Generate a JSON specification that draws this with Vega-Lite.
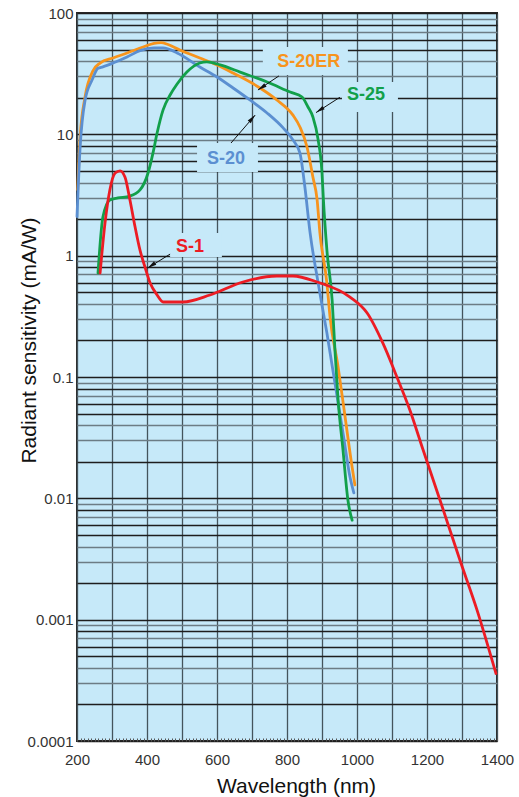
{
  "$schema": "https://vega.github.io/schema/vega-lite/v6.json",
  "width": 420,
  "height": 728,
  "autosize": "none",
  "padding": {"left": 77, "top": 13, "right": 22, "bottom": 56},
  "config": {
    "view": {"stroke": "#2a2a2a", "strokeWidth": 2, "fill": "#c6e9f9"},
    "font": "Liberation Sans"
  },
  "datasets": {
    "curves": [
      {"series": "S-20ER", "nm": 202, "v": 3.5},
      {"series": "S-20ER", "nm": 209, "v": 9.5},
      {"series": "S-20ER", "nm": 223, "v": 20.3},
      {"series": "S-20ER", "nm": 246, "v": 33.5},
      {"series": "S-20ER", "nm": 266, "v": 38.7},
      {"series": "S-20ER", "nm": 303, "v": 42.6},
      {"series": "S-20ER", "nm": 343, "v": 46.8},
      {"series": "S-20ER", "nm": 389, "v": 52.5},
      {"series": "S-20ER", "nm": 420, "v": 56.3},
      {"series": "S-20ER", "nm": 440, "v": 57},
      {"series": "S-20ER", "nm": 460, "v": 55},
      {"series": "S-20ER", "nm": 494, "v": 49.5},
      {"series": "S-20ER", "nm": 551, "v": 42.6},
      {"series": "S-20ER", "nm": 600, "v": 37.3},
      {"series": "S-20ER", "nm": 646, "v": 32},
      {"series": "S-20ER", "nm": 723, "v": 24.1},
      {"series": "S-20ER", "nm": 771, "v": 19.2},
      {"series": "S-20ER", "nm": 817, "v": 14.4},
      {"series": "S-20ER", "nm": 837, "v": 11.5},
      {"series": "S-20ER", "nm": 857, "v": 7.9},
      {"series": "S-20ER", "nm": 874, "v": 4.45},
      {"series": "S-20ER", "nm": 886, "v": 2.9},
      {"series": "S-20ER", "nm": 894, "v": 1.54},
      {"series": "S-20ER", "nm": 914, "v": 0.595},
      {"series": "S-20ER", "nm": 923, "v": 0.312},
      {"series": "S-20ER", "nm": 946, "v": 0.121},
      {"series": "S-20ER", "nm": 966, "v": 0.0468},
      {"series": "S-20ER", "nm": 986, "v": 0.0181},
      {"series": "S-20ER", "nm": 994, "v": 0.0129},
      {"series": "S-20", "nm": 200, "v": 2.1},
      {"series": "S-20", "nm": 209, "v": 7.9},
      {"series": "S-20", "nm": 223, "v": 19},
      {"series": "S-20", "nm": 243, "v": 28},
      {"series": "S-20", "nm": 260, "v": 35},
      {"series": "S-20", "nm": 274, "v": 36},
      {"series": "S-20", "nm": 303, "v": 38.7},
      {"series": "S-20", "nm": 343, "v": 43.4},
      {"series": "S-20", "nm": 380, "v": 49},
      {"series": "S-20", "nm": 420, "v": 51.5},
      {"series": "S-20", "nm": 446, "v": 51.5},
      {"series": "S-20", "nm": 486, "v": 46.8},
      {"series": "S-20", "nm": 551, "v": 35.9},
      {"series": "S-20", "nm": 600, "v": 29.7},
      {"series": "S-20", "nm": 646, "v": 24.1},
      {"series": "S-20", "nm": 694, "v": 19.2},
      {"series": "S-20", "nm": 743, "v": 15},
      {"series": "S-20", "nm": 789, "v": 11.3},
      {"series": "S-20", "nm": 817, "v": 9},
      {"series": "S-20", "nm": 837, "v": 7.0},
      {"series": "S-20", "nm": 851, "v": 3.7},
      {"series": "S-20", "nm": 866, "v": 1.54},
      {"series": "S-20", "nm": 889, "v": 0.595},
      {"series": "S-20", "nm": 914, "v": 0.23},
      {"series": "S-20", "nm": 937, "v": 0.089},
      {"series": "S-20", "nm": 960, "v": 0.0345},
      {"series": "S-20", "nm": 980, "v": 0.015},
      {"series": "S-20", "nm": 991, "v": 0.0111},
      {"series": "S-25", "nm": 260, "v": 0.72},
      {"series": "S-25", "nm": 274, "v": 2.08},
      {"series": "S-25", "nm": 294, "v": 2.88},
      {"series": "S-25", "nm": 317, "v": 2.99},
      {"series": "S-25", "nm": 351, "v": 3.1},
      {"series": "S-25", "nm": 380, "v": 3.48},
      {"series": "S-25", "nm": 403, "v": 4.8},
      {"series": "S-25", "nm": 417, "v": 7.0},
      {"series": "S-25", "nm": 429, "v": 10.3},
      {"series": "S-25", "nm": 446, "v": 15.9},
      {"series": "S-25", "nm": 466, "v": 21.1},
      {"series": "S-25", "nm": 486, "v": 26},
      {"series": "S-25", "nm": 514, "v": 32.6},
      {"series": "S-25", "nm": 551, "v": 38.7},
      {"series": "S-25", "nm": 571, "v": 39.5},
      {"series": "S-25", "nm": 609, "v": 37.3},
      {"series": "S-25", "nm": 666, "v": 32.6},
      {"series": "S-25", "nm": 743, "v": 27},
      {"series": "S-25", "nm": 809, "v": 22.3},
      {"series": "S-25", "nm": 843, "v": 20.3},
      {"series": "S-25", "nm": 860, "v": 16.8},
      {"series": "S-25", "nm": 874, "v": 13.9},
      {"series": "S-25", "nm": 889, "v": 9},
      {"series": "S-25", "nm": 900, "v": 4.8},
      {"series": "S-25", "nm": 904, "v": 2.9},
      {"series": "S-25", "nm": 914, "v": 1.11},
      {"series": "S-25", "nm": 929, "v": 0.43},
      {"series": "S-25", "nm": 937, "v": 0.167},
      {"series": "S-25", "nm": 946, "v": 0.0646},
      {"series": "S-25", "nm": 960, "v": 0.025},
      {"series": "S-25", "nm": 974, "v": 0.0097},
      {"series": "S-25", "nm": 986, "v": 0.0066},
      {"series": "S-1", "nm": 266, "v": 0.72},
      {"series": "S-1", "nm": 280, "v": 1.86},
      {"series": "S-1", "nm": 294, "v": 3.5},
      {"series": "S-1", "nm": 309, "v": 4.8},
      {"series": "S-1", "nm": 323, "v": 5.0},
      {"series": "S-1", "nm": 337, "v": 4.45},
      {"series": "S-1", "nm": 351, "v": 2.9},
      {"series": "S-1", "nm": 366, "v": 1.72},
      {"series": "S-1", "nm": 380, "v": 1.11},
      {"series": "S-1", "nm": 394, "v": 0.81},
      {"series": "S-1", "nm": 409, "v": 0.595},
      {"series": "S-1", "nm": 429, "v": 0.474},
      {"series": "S-1", "nm": 446, "v": 0.415},
      {"series": "S-1", "nm": 503, "v": 0.415},
      {"series": "S-1", "nm": 580, "v": 0.474},
      {"series": "S-1", "nm": 674, "v": 0.607},
      {"series": "S-1", "nm": 771, "v": 0.68},
      {"series": "S-1", "nm": 817, "v": 0.68},
      {"series": "S-1", "nm": 886, "v": 0.607},
      {"series": "S-1", "nm": 980, "v": 0.456},
      {"series": "S-1", "nm": 1029, "v": 0.337},
      {"series": "S-1", "nm": 1074, "v": 0.19},
      {"series": "S-1", "nm": 1114, "v": 0.1},
      {"series": "S-1", "nm": 1151, "v": 0.0535},
      {"series": "S-1", "nm": 1189, "v": 0.025},
      {"series": "S-1", "nm": 1237, "v": 0.0097},
      {"series": "S-1", "nm": 1294, "v": 0.0031},
      {"series": "S-1", "nm": 1343, "v": 0.0012},
      {"series": "S-1", "nm": 1397, "v": 0.00036}
    ],
    "boxes": [
      {"series": "S-20ER", "nm": 731, "nm2": 974, "v": 30.8, "v2": 52.5},
      {"series": "S-25", "nm": 957, "nm2": 1117, "v": 15.3, "v2": 27},
      {"series": "S-20", "nm": 543, "nm2": 717, "v": 4.89, "v2": 8.48},
      {"series": "S-1", "nm": 466, "nm2": 614, "v": 0.975, "v2": 1.54}
    ],
    "labels": [
      {"series": "S-20ER", "nm": 862, "v": 39.8},
      {"series": "S-25", "nm": 1026, "v": 21.1},
      {"series": "S-20", "nm": 626, "v": 6.26},
      {"series": "S-1", "nm": 523, "v": 1.18}
    ],
    "arrows": [
      {"series": "S-20ER", "nm": 777, "v": 30.3},
      {"series": "S-20ER", "nm": 717, "v": 23.2},
      {"series": "S-25", "nm": 951, "v": 20.2},
      {"series": "S-25", "nm": 883, "v": 15.1},
      {"series": "S-20", "nm": 640, "v": 8.48},
      {"series": "S-20", "nm": 709, "v": 14.4},
      {"series": "S-1", "nm": 466, "v": 1.03},
      {"series": "S-1", "nm": 402, "v": 0.791}
    ],
    "heads": [
      {"series": "S-20ER", "nm": 717, "v": 23.2},
      {"series": "S-25", "nm": 883, "v": 15.1},
      {"series": "S-20", "nm": 709, "v": 14.4},
      {"series": "S-1", "nm": 402, "v": 0.791}
    ]
  },
  "encoding": {
    "x": {
      "field": "nm",
      "type": "quantitative",
      "scale": {"domain": [200, 1400], "nice": false, "zero": false},
      "axis": {
        "values": [200,210,220,230,240,250,260,270,280,290,300,310,320,330,340,350,360,370,380,390,400,410,420,430,440,450,460,470,480,490,500,510,520,530,540,550,560,570,580,590,600,610,620,630,640,650,660,670,680,690,700,710,720,730,740,750,760,770,780,790,800,810,820,830,840,850,860,870,880,890,900,910,920,930,940,950,960,970,980,990,1000,1010,1020,1030,1040,1050,1060,1070,1080,1090,1100,1110,1120,1130,1140,1150,1160,1170,1180,1190,1200,1210,1220,1230,1240,1250,1260,1270,1280,1290,1300,1310,1320,1330,1340,1350,1360,1370,1380,1390,1400],
        "format": "d",
        "grid": true,
        "gridColor": "#44545c",
        "gridWidth": 1.3,
        "gridOpacity": {"condition": {"test": "datum.value % 100 == 0", "value": 1}, "value": 0},
        "domain": false,
        "ticks": true,
        "tickSize": -3,
        "tickColor": "#555555",
        "tickWidth": 1,
        "labelExpr": "datum.value % 200 == 0 ? datum.label : ''",
        "labelOverlap": false,
        "labelBound": false,
        "labelFlush": false,
        "labelPadding": 14,
        "labelFontSize": 15,
        "labelColor": "#333333",
        "labelFont": "Liberation Sans",
        "title": "Wavelength (nm)",
        "titleFontSize": 21,
        "titleFontWeight": "normal",
        "titleColor": "#111111",
        "titleFont": "Liberation Sans",
        "titleX": 219,
        "titleY": 51,
        "titleBaseline": "alphabetic"
      }
    },
    "y": {
      "field": "v",
      "type": "quantitative",
      "scale": {"type": "log", "domain": [0.0001, 100], "nice": false},
      "axis": {
        "values": [0.0001,0.0002,0.0003,0.0004,0.0005,0.0006,0.0007,0.0008,0.0009,0.001,0.002,0.003,0.004,0.005,0.006,0.007,0.008,0.009,0.01,0.02,0.03,0.04,0.05,0.06,0.07,0.08,0.09,0.1,0.2,0.3,0.4,0.5,0.6,0.7,0.8,0.9,1,2,3,4,5,6,7,8,9,10,20,30,40,50,60,70,80,90,100],
        "grid": true,
        "gridWidth": 1.3,
        "gridColor": {"condition": {"test": "indexof([1,2,5,6,8], round(datum.value / pow(10, floor(log(datum.value) / LN10 + 1e-9)))) >= 0", "value": "#1e1e1e"}, "value": "#6c7c85"},
        "domain": false,
        "ticks": false,
        "format": ".4~f",
        "labelExpr": "indexof([0.0001,0.001,0.01,0.1,1,10,100], datum.value) >= 0 ? datum.label : ''",
        "labelOverlap": false,
        "labelBound": false,
        "labelFlush": false,
        "labelPadding": 4,
        "labelFontSize": 15,
        "labelColor": "#333333",
        "labelFont": "Liberation Sans",
        "title": "Radiant sensitivity (mA/W)",
        "titleFontSize": 21,
        "titleFontWeight": "normal",
        "titleColor": "#111111",
        "titleFont": "Liberation Sans",
        "titleX": -42,
        "titleY": 327,
        "titleAngle": 270,
        "titleBaseline": "alphabetic"
      }
    }
  },
  "layer": [
    {
      "data": {"name": "boxes"},
      "mark": {"type": "rect", "fill": "#c6e9f9", "stroke": null},
      "encoding": {
        "x2": {"field": "nm2"},
        "y2": {"field": "v2"}
      }
    },
    {
      "data": {"name": "curves"},
      "mark": {"type": "line", "interpolate": "monotone", "strokeWidth": 2.8, "strokeCap": "round", "strokeJoin": "round"},
      "encoding": {
        "color": {
          "field": "series",
          "type": "nominal",
          "scale": {"domain": ["S-20ER", "S-20", "S-25", "S-1"], "range": ["#f7941d", "#5b8fd1", "#12a04a", "#ec1c24"]},
          "legend": null
        },
        "detail": {"field": "series"}
      }
    },
    {
      "data": {"name": "arrows"},
      "mark": {"type": "line", "color": "#111111", "strokeWidth": 1},
      "encoding": {"detail": {"field": "series"}}
    },
    {
      "data": {"name": "heads"},
      "transform": [{"filter": "datum.series != 'S-20'"}],
      "mark": {"type": "point", "shape": "M0,0L0.45,2L-0.45,2Z", "size": 81, "filled": true, "color": "#111111", "opacity": 1, "angle": 236, "strokeWidth": 0}
    },
    {
      "data": {"name": "heads"},
      "transform": [{"filter": "datum.series == 'S-20'"}],
      "mark": {"type": "point", "shape": "M0,0L0.45,2L-0.45,2Z", "size": 81, "filled": true, "color": "#111111", "opacity": 1, "angle": 41, "strokeWidth": 0}
    },
    {
      "data": {"name": "labels"},
      "mark": {"type": "text", "fontSize": 18, "fontWeight": "bold", "font": "Liberation Sans", "align": "center", "baseline": "middle"},
      "encoding": {
        "text": {"field": "series"},
        "color": {"field": "series", "type": "nominal", "legend": null}
      }
    }
  ]
}
